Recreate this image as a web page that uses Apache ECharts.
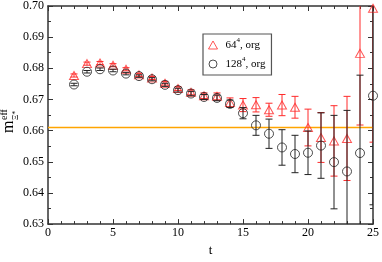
<!DOCTYPE html>
<html>
<head>
<meta charset="utf-8">
<script src="https://cdn.jsdelivr.net/npm/echarts@6/dist/echarts.min.js"></script>
<style>
html,body{margin:0;padding:0;background:#fff;}
#chart{width:382px;height:262px;}
</style>
</head>
<body>
<div id="chart"></div>
<script>
var tValues = [2,3,4,5,6,7,8,9,10,11,12,13,14,15,16,17,18,19,20,21,22,23,24,25];
var m64 = [0.6777,0.6815,0.6817,0.6810,0.6797,0.6779,0.6769,0.6752,0.6735,0.6723,0.6712,0.6710,0.6690,0.6682,0.6683,0.6667,0.6682,0.6675,0.6610,0.6578,0.6567,0.6575,0.6848,0.6993];
var e64 = [0.0005,0.0005,0.0005,0.0005,0.0005,0.0005,0.0005,0.0006,0.0006,0.0008,0.0009,0.0011,0.0015,0.0021,0.0023,0.0021,0.0034,0.0035,0.0059,0.0080,0.0113,0.0135,0.0230,0.0430];
var m128 = [0.6748,0.6789,0.6797,0.6793,0.6783,0.6775,0.6765,0.6747,0.6730,0.6719,0.6708,0.6705,0.6686,0.6656,0.6617,0.6590,0.6546,0.6525,0.6529,0.6552,0.6499,0.6469,0.6528,0.6712];
var e128 = [0.0004,0.0004,0.0004,0.0004,0.0004,0.0004,0.0005,0.0005,0.0006,0.0007,0.0008,0.0009,0.0012,0.0018,0.0032,0.0047,0.0057,0.0060,0.0070,0.0105,0.0150,0.0196,0.0250,0.0350];
var refLevel = 0.661;
var xRange = [0, 25];
var yRange = [0.63, 0.70];
var seriesNames = ['64⁴, org', '128⁴, org'];

var RED = '#ff2a2a';
var BLACK = '#222222';
var ORANGE = '#ffa500';
var FONT = 'Liberation Serif';

function pts(vals){ return tValues.map(function(t,i){ return [t, vals[i]]; }); }
function errData(vals, errs){ return tValues.map(function(t,i){ return [t, vals[i]-errs[i], vals[i]+errs[i]]; }); }

function errRender(color){
  return function(params, api){
    var x = api.value(0), lo = api.value(1), hi = api.value(2);
    var p1 = api.coord([x, lo]);
    var p2 = api.coord([x, hi]);
    var hw = 3.5;
    var st = {stroke: color, lineWidth: 1};
    return {type:'group', children:[
      {type:'line', shape:{x1:p1[0], y1:p1[1], x2:p2[0], y2:p2[1]}, style:st},
      {type:'line', shape:{x1:p1[0]-hw, y1:p1[1], x2:p1[0]+hw, y2:p1[1]}, style:st},
      {type:'line', shape:{x1:p2[0]-hw, y1:p2[1], x2:p2[0]+hw, y2:p2[1]}, style:st}
    ]};
  };
}

function mkX(pos, showLabel){
  return {
    type:'value', position:pos, min:xRange[0], max:xRange[1], interval:5,
    axisLine:{show:true, onZero:false, lineStyle:{color:'#333', width:1.5}},
    axisTick:{show:true, inside:true, length:5, lineStyle:{color:'#333', width:1}},
    minorTick:{show:true, splitNumber:5, length:3, lineStyle:{color:'#333', width:1}},
    splitLine:{show:false},
    axisLabel:{show:showLabel, margin:3, color:'#000', fontFamily:FONT, fontSize:12},
    name: showLabel ? 't' : '', nameLocation:'middle', nameGap:17,
    nameTextStyle:{color:'#000', fontFamily:FONT, fontSize:13}
  };
}
function mkY(pos, showLabel){
  return {
    type:'value', position:pos, min:yRange[0], max:yRange[1], interval:0.01,
    axisLine:{show:true, onZero:false, lineStyle:{color:'#333', width:1.5}},
    axisTick:{show:true, inside:true, length:5, lineStyle:{color:'#333', width:1}},
    minorTick:{show:true, splitNumber:2, length:3, lineStyle:{color:'#333', width:1}},
    splitLine:{show:false},
    axisLabel:{show:showLabel, margin:4, color:'#000', fontFamily:FONT, fontSize:12,
      formatter:function(v){ return v.toFixed(2); }}
  };
}

var chart = echarts.init(document.getElementById('chart'), null, {renderer:'canvas'});
chart.setOption({
  animation:false,
  backgroundColor:'#fff',
  grid:{left:48, right:6, top:5, bottom:24},
  xAxis:[mkX('bottom', true), mkX('top', false)],
  yAxis:[mkY('left', true), mkY('right', false)],
  legend:{
    orient:'vertical', left:203, top:34,
    padding:[3,6,3,5], itemGap:3, itemWidth:9, itemHeight:8,
    borderColor:'#555', borderWidth:1.2, backgroundColor:'#fff',
    formatter:function(name){ return name.replace('⁴', '{s|4}'); },
    textStyle:{fontFamily:FONT, fontSize:11, color:'#000', padding:[0,0,0,3], lineHeight:16,
      rich:{s:{fontFamily:FONT, fontSize:7, verticalAlign:'top', lineHeight:16, padding:[0,0,6,0]}}},
    data:[
      {name:seriesNames[0], icon:'triangle', itemStyle:{color:'transparent', borderColor:RED, borderWidth:1}},
      {name:seriesNames[1], icon:'circle', itemStyle:{color:'transparent', borderColor:BLACK, borderWidth:1}}
    ]
  },
  graphic:[{
    type:'group', x:14, y:121, rotation:Math.PI/2,
    children:[
      {type:'text', x:-12, y:3, style:{text:'m', fontFamily:FONT, fontSize:16, fill:'#000', textAlign:'left', textVerticalAlign:'bottom'}},
      {type:'text', x:1, y:6, style:{text:'Ξ*', fontFamily:FONT, fontSize:8, fill:'#000', textAlign:'left', textVerticalAlign:'bottom'}},
      {type:'text', x:1, y:-5, style:{text:'eff', fontFamily:FONT, fontSize:10, fill:'#000', textAlign:'left', textVerticalAlign:'bottom'}}
    ]
  }],
  series:[
    {type:'line', name:'ref', data:[[xRange[0], refLevel],[xRange[1], refLevel]], symbol:'none', silent:true,
      color:ORANGE, itemStyle:{color:ORANGE}, lineStyle:{color:ORANGE, width:1.3, opacity:1}, z:1},
    {type:'custom', name:seriesNames[0]+'err', data:errData(m64, e64), renderItem:errRender(RED), clip:true, z:2, silent:true},
    {type:'scatter', name:seriesNames[0], data:pts(m64), symbol:'triangle', symbolSize:[9,8],
      itemStyle:{color:'transparent', borderColor:RED, borderWidth:1}, z:3},
    {type:'custom', name:seriesNames[1]+'err', data:errData(m128, e128), renderItem:errRender(BLACK), clip:true, z:4, silent:true},
    {type:'scatter', name:seriesNames[1], data:pts(m128), symbol:'circle', symbolSize:9,
      itemStyle:{color:'transparent', borderColor:BLACK, borderWidth:1}, z:5}
  ]
});
</script>
</body>
</html>
